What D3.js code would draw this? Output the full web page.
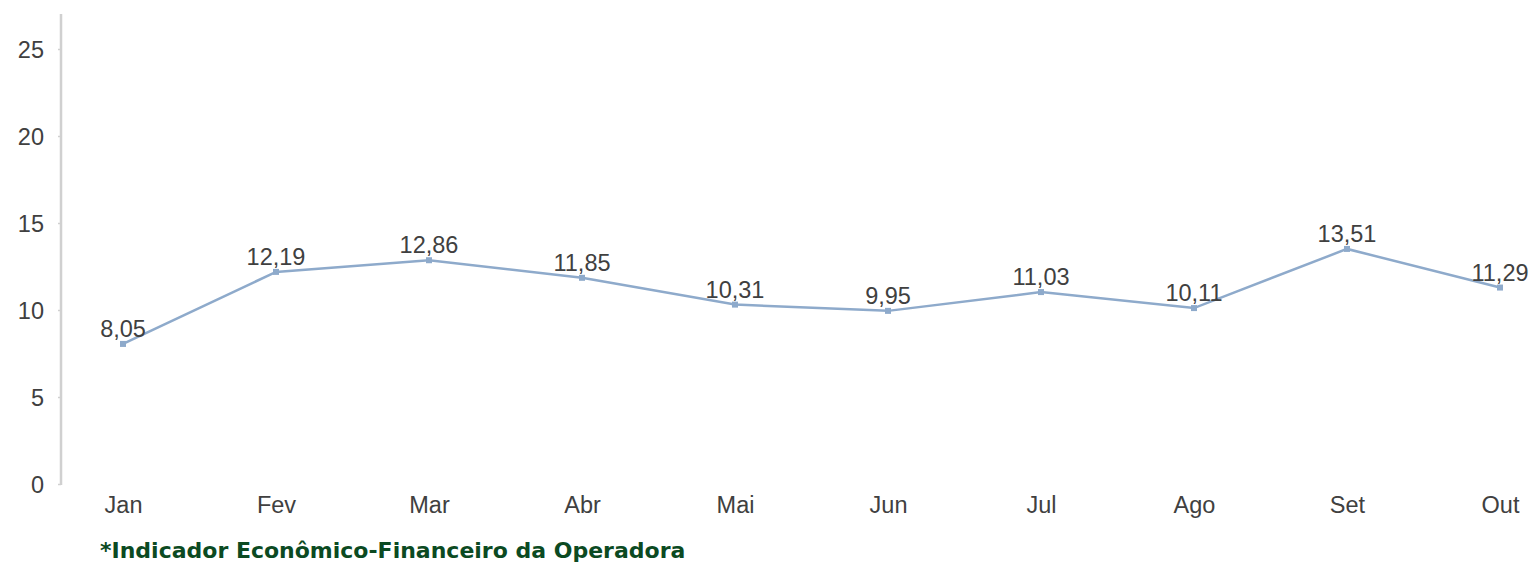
<!DOCTYPE html>
<html><head><meta charset="utf-8">
<script src="https://cdn.jsdelivr.net/npm/d3@7"></script>
<style>body{margin:0;background:#fff}svg{display:block}</style>
</head><body>
<svg id="c" width="1535" height="564"></svg>
<script>
const months = ["Jan","Fev","Mar","Abr","Mai","Jun","Jul","Ago","Set","Out"];
const values = [8.05,12.19,12.86,11.85,10.31,9.95,11.03,10.11,13.51,11.29];
const yTicks = [0,5,10,15,20,25];
const footnote = "*Indicador Econômico-Financeiro da Operadora";

const svg = d3.select("#c");
const x = d3.scalePoint().domain(months).range([123,1500]);
const y = d3.scaleLinear().domain([0,25]).range([484,49]);
const fmt = v => v.toFixed(2).replace(".", ",");
const FONT = "Liberation Sans, Arial, sans-serif";

// y axis
const ya = svg.append("g").attr("transform","translate(61,0)")
  .call(d3.axisLeft(y).tickValues(yTicks).tickSize(3).tickPadding(14).tickFormat(d=>d));
ya.select(".domain").remove();
ya.selectAll(".tick line").attr("stroke","#d0d0d0").attr("stroke-width",1.5);
ya.selectAll(".tick text").attr("font-family",FONT)
  .attr("font-size",23.5).attr("fill","#404040").attr("dy","0.35em");
svg.append("line").attr("x1",61).attr("x2",61).attr("y1",14).attr("y2",y(0)+1)
  .attr("stroke","#d0d0d0").attr("stroke-width",2.5);

// x labels
const xa = svg.append("g").attr("transform","translate(0,484)")
  .call(d3.axisBottom(x).tickSize(0).tickPadding(12));
xa.select(".domain").remove();
xa.selectAll(".tick text").attr("font-family",FONT)
  .attr("font-size",23.5).attr("fill","#404040").attr("dy","0.71em");

const data = months.map((m,i)=>({m, v: values[i]}));
svg.append("path").datum(data)
  .attr("d", d3.line().x(d=>x(d.m)).y(d=>y(d.v)))
  .attr("fill","none").attr("stroke","#8eaacb").attr("stroke-width",2.5);
svg.selectAll("rect.mk").data(data).join("rect").attr("class","mk")
  .attr("x",d=>x(d.m)-3).attr("y",d=>y(d.v)-3).attr("width",6).attr("height",6)
  .attr("fill","#8eaacb");
svg.selectAll("text.lbl").data(data).join("text").attr("class","lbl")
  .attr("x",d=>x(d.m))
  .attr("y",d=>y(d.v)-7)
  .attr("text-anchor","middle")
  .attr("font-family",FONT).attr("font-size",23.5)
  .attr("fill","#404040").text(d=>fmt(d.v));

svg.append("text").attr("x",100).attr("y",558)
  .attr("font-family","DejaVu Sans, Verdana, sans-serif").attr("font-weight","bold")
  .attr("font-size",22).attr("fill","#0b4a22").text(footnote);
</script>
</body></html>
